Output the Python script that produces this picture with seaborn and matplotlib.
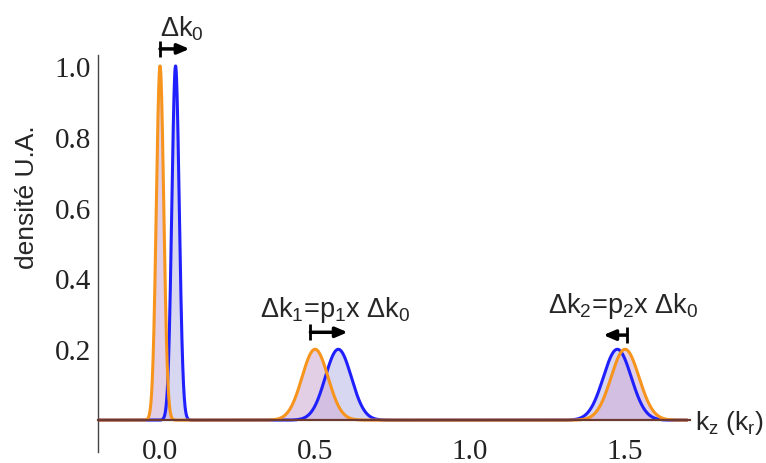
import numpy as np
import pandas as pd
import matplotlib
matplotlib.use("Agg")
import matplotlib.pyplot as plt
import seaborn as sns

# peaks: centre, height, width (in k_r)
orange_centres = [0.0, 0.5, 1.5]
blue_centres = [0.05, 0.575, 1.475]
heights = [1.0, 0.2, 0.2]
widths = [0.012, 0.042, 0.045]

x_ticks = [0.0, 0.5, 1.0, 1.5]
y_ticks = [0.2, 0.4, 0.6, 0.8, 1.0]

# shift arrows: (start, end, y) and their labels (x, y)
arrows = [(0.0, 0.095, 1.048), (0.485, 0.605, 0.248), (1.505, 1.43, 0.24)]
labels = [r"Δk$_0$", r"Δk$_1$=p$_1$x Δk$_0$", r"Δk$_2$=p$_2$x Δk$_0$"]
label_pos = [(0.07, 1.085), (0.565, 0.295), (1.495, 0.305)]

sns.set_style("white")
plt.rcParams["font.family"] = ["Liberation Sans", "DejaVu Sans"]
plt.rcParams["mathtext.default"] = "regular"

k = np.linspace(-0.2, 1.7, 3000)


def profile(centres):
    return sum(h * np.exp(-0.5 * ((k - c) / w) ** 2)
               for c, h, w in zip(centres, heights, widths))


df = pd.DataFrame({"k": k, "orange": profile(orange_centres), "blue": profile(blue_centres)})

fig = plt.figure(figsize=(7.66, 4.64), dpi=100)
ax = fig.add_axes([0.128, 0.0237, 0.773, 0.855])

ax.fill_between(df["k"], df["blue"], color="#a8a8e4", alpha=0.45, lw=0)
ax.fill_between(df["k"], df["orange"], color="#d0b0d6", alpha=0.6, lw=0)
sns.lineplot(data=df, x="k", y="blue", color="#2020ff", lw=2.2, ax=ax)
sns.lineplot(data=df, x="k", y="orange", color="#f7941d", lw=2.2, ax=ax)

ax.set_xlim(-0.2, 1.71)
ax.set_ylim(-0.09, 1.03)

for s in ["top", "right"]:
    ax.spines[s].set_visible(False)
ax.spines["bottom"].set_position(("data", 0))
ax.spines["bottom"].set_color("#6e3a30")
ax.spines["bottom"].set_linewidth(1.6)
ax.spines["bottom"].set_zorder(5)
ax.spines["left"].set_color("#444444")
ax.spines["left"].set_linewidth(1.0)

ax.set_xticks(x_ticks)
ax.set_xticklabels(["0.0", "0.5", "1.0", "1.5"])
ax.set_xticks(np.arange(-0.1, 1.71, 0.1), minor=True)
ax.set_yticks(y_ticks)
ax.set_yticklabels(["0.2", "0.4", "0.6", "0.8", "1.0"])
ax.set_yticks(np.arange(0.05, 1.03, 0.05), minor=True)
ax.tick_params(axis="both", which="both", direction="in", color="#444444")
ax.tick_params(axis="both", which="major", length=7, width=1.0, labelsize=21)
ax.tick_params(axis="both", which="minor", length=4, width=0.8)
ax.tick_params(axis="x", pad=13)
ax.tick_params(axis="y", pad=5)
for t in ax.get_xticklabels() + ax.get_yticklabels():
    t.set_family(["Liberation Serif", "DejaVu Serif"])
    t.set_color("#222222")

ax.set_xlabel("")
ax.set_ylabel("densité U.A.", fontsize=19)
ax.yaxis.set_label_coords(-0.1, 0.645)

fig.text(695 / 766, 1 - 430 / 464, r"k$_z$ (k$_r$)", fontsize=19, va="baseline", ha="left")

for (x0, x1, y), txt, (tx, ty) in zip(arrows, labels, label_pos):
    ax.annotate("", xy=(x1, y), xytext=(x0, y), annotation_clip=False,
                arrowprops=dict(arrowstyle="-|>,head_length=0.7,head_width=0.3",
                                lw=2.5, color="black", shrinkA=0, shrinkB=0))
    ax.plot([x0], [y], marker="|", ms=11, mew=2, color="black", clip_on=False)
    ax.text(tx, ty, txt, fontsize=19.5, ha="center", va="baseline", clip_on=False)

fig.savefig("out.png", dpi=100)
